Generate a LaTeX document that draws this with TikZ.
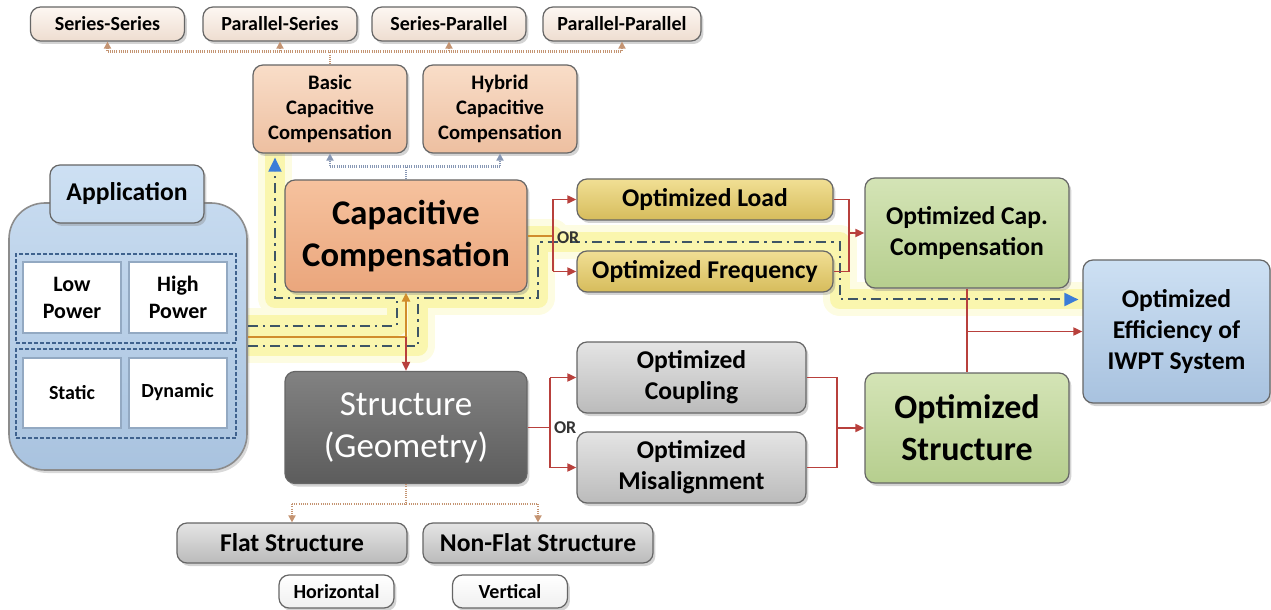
\documentclass[tikz,border=0pt]{standalone}
\usepackage{fontspec}
\setmainfont{Carlito}
\usepackage{tikz}
\usetikzlibrary{arrows.meta, positioning, shadows}

\definecolor{peachtop}{HTML}{FDF7F2}
\definecolor{peachbot}{HTML}{EEDDD0}
\definecolor{saltop}{HTML}{F9DDC8}
\definecolor{salbot}{HTML}{EDBFA0}
\definecolor{captop}{HTML}{F6C29E}
\definecolor{capbot}{HTML}{EAA67C}
\definecolor{geotop}{HTML}{828282}
\definecolor{geobot}{HTML}{5C5C5C}
\definecolor{loadtop}{HTML}{F1DF94}
\definecolor{loadbot}{HTML}{D6BC5C}
\definecolor{greentop}{HTML}{D4E4B6}
\definecolor{greenbot}{HTML}{B6CE8E}
\definecolor{bluetop}{HTML}{CDE0F3}
\definecolor{bluebot}{HTML}{A8C2DF}
\definecolor{graytop}{HTML}{E4E4E4}
\definecolor{graybot}{HTML}{BBBBBB}
\definecolor{apptop}{HTML}{C6DAEF}
\definecolor{appbot}{HTML}{A9C3DF}
\definecolor{linkred}{HTML}{B8403C}
\definecolor{hlorange}{HTML}{D18D2C}
\definecolor{routegray}{HTML}{3E5566}
\definecolor{routeblue}{HTML}{3B7DD8}
\definecolor{glowa}{HTML}{FDFCE2}
\definecolor{glowb}{HTML}{FAF6AE}
\definecolor{treetan}{HTML}{C49472}
\definecolor{treeblue}{HTML}{8797B4}
\definecolor{grpblue}{HTML}{3F628E}
\definecolor{celledge}{HTML}{93A9C2}

\pgfdeclarelayer{bg}
\pgfsetlayers{bg,main}

\begin{document}
\begin{tikzpicture}[x=0.5pt, y=-0.5pt,
    box/.style={draw=black!60, line width=0.6pt, rounded corners=5pt, align=center, inner sep=1pt,
        drop shadow={opacity=0.35, shadow xshift=1.2pt, shadow yshift=-1.5pt}},
    tag/.style={box, top color=peachtop, bottom color=peachbot, minimum width=77pt, minimum height=17pt,
        font=\bfseries\fontsize{10}{12}\selectfont},
    capsub/.style={box, top color=saltop, bottom color=salbot, minimum width=77pt, minimum height=44pt,
        font=\bfseries\fontsize{10.3}{12.5}\selectfont},
    bigbox/.style={box, minimum width=121pt, minimum height=56pt, font=\bfseries\fontsize{17.3}{21}\selectfont},
    midbox/.style={box, font=\bfseries\fontsize{12.8}{15.5}\selectfont},
    yellowbox/.style={midbox, top color=loadtop, bottom color=loadbot, minimum width=128pt, minimum height=20.5pt},
    greybox/.style={midbox, top color=graytop, bottom color=graybot},
    greenbox/.style={top color=greentop, bottom color=greenbot, minimum width=102pt, minimum height=55pt},
    appbox/.style={draw=black!45, line width=0.8pt, rounded corners=18pt, top color=apptop, bottom color=appbot,
        minimum width=119pt, minimum height=133.5pt, drop shadow={opacity=0.3, shadow xshift=1.2pt, shadow yshift=-1.5pt}},
    group/.style={draw=grpblue, line width=0.7pt, dash pattern=on 2pt off 1pt, minimum width=110pt, minimum height=44.5pt},
    cell/.style={draw=celledge, line width=1pt, fill=white, align=center, minimum width=49pt, minimum height=35pt,
        font=\bfseries\fontsize{11}{13.5}\selectfont},
    link/.style={draw=linkred, line width=0.9pt},
    hl/.style={draw=hlorange, line width=1pt},
    tip/.style={-{Triangle[length=4.5pt, width=4pt]}},
    tree/.style={draw=#1, line width=1.3pt, dash pattern=on 0.5pt off 0.6pt},
    treetip/.style={-{Triangle[length=3.5pt, width=3.5pt, color=#1]}},
    route/.style={draw=routegray, line width=1pt, dash pattern=on 5pt off 2.5pt on 1.2pt off 2.5pt,
        -{Triangle[length=7pt, width=6.5pt, color=routeblue]}},
    halo/.style={draw=glowa, line width=17pt, line join=round, line cap=round},
    glow/.style={draw=glowb, line width=10pt, line join=round, line cap=round},
    ortext/.style={font=\bfseries\fontsize{9}{10}\selectfont, inner sep=1pt, text=black!80}
]
\useasboundingbox (0,0) rectangle (1271,610);

% Compensation topologies
\node[tag] (ss) at (107.5,24) {Series-Series};
\node[tag] (ps) at (280,24) {Parallel-Series};
\node[tag] (sp) at (449,24) {Series-Parallel};
\node[tag, minimum width=79pt] (pp) at (622,24) {Parallel-Parallel};

\node[capsub] (basic) at (330,109) {Basic\\Capacitive\\Compensation};
\node[capsub] (hybrid) at (500,109) {Hybrid\\Capacitive\\Compensation};

% Main blocks
\node[bigbox, top color=captop, bottom color=capbot] (capcomp) at (406,236) {Capacitive\\Compensation};
\node[bigbox, top color=geotop, bottom color=geobot, text=white,
    font=\fontsize{17.5}{21}\selectfont] (struct) at (406,427.5) {Structure\\(Geometry)};

% Application panel
\node[appbox] (app) at (128,336.5) {};
\node[group] (pwr) at (126,298.5) {};
\node[group] (mode) at (126,393.5) {};
\node[cell] (low) at (72,297.5) {Low\\Power};
\node[cell] (high) at (178,297.5) {High\\Power};
\node[cell, font=\bfseries\fontsize{10}{12}\selectfont] (static) at (72,392.5) {Static};
\node[cell, font=\bfseries\fontsize{10}{12}\selectfont] (dyn) at (177.5,392.5) {Dynamic};
\node[midbox, top color=bluetop, bottom color=apptop, minimum width=77pt, minimum height=29pt] (apptitle) at (127,194) {Application};

% Optimization targets
\node[yellowbox] (load) at (705,199.5) {Optimized Load};
\node[yellowbox] (freq) at (705,271.5) {Optimized Frequency};
\node[greybox, minimum width=114.5pt, minimum height=35.5pt] (coup) at (691.5,377.5) {Optimized\\Coupling};
\node[greybox, minimum width=114.5pt, minimum height=35.5pt] (mis) at (691.5,467.5) {Optimized\\Misalignment};
\node[midbox, greenbox] (optcap) at (967,233) {Optimized Cap.\\Compensation};
\node[bigbox, greenbox, font=\bfseries\fontsize{17}{21}\selectfont] (optstruct) at (967,428) {Optimized\\Structure};
\node[midbox, top color=bluetop, bottom color=bluebot, minimum width=93.5pt, minimum height=71.5pt] (eff) at (1176.5,331.5) {Optimized\\Efficiency of\\IWPT System};

% Structure types
\node[greybox, minimum width=115pt, minimum height=20pt] (flat) at (292,543) {Flat Structure};
\node[greybox, minimum width=115pt, minimum height=20pt] (nonflat) at (538,543) {Non-Flat Structure};
\node[tag, top color=white, bottom color=white!94!black, minimum width=57.5pt, minimum height=16.5pt] (horiz) at (336.5,591.5) {Horizontal};
\node[tag, top color=white, bottom color=white!94!black, minimum width=57.5pt, minimum height=16.5pt] (vert) at (510,591.5) {Vertical};

% Highlighted design path
\begin{pgfonlayer}{bg}
    \foreach \g in {halo,glow} {
        \draw[\g] ([yshift=5.5pt]app.east) -- (397,325.5) -- (397,298) -- (275,298) -- ([xshift=-27.5pt]basic.south);
        \draw[\g] ([yshift=-4.5pt]app.east) -- (418,345.5) -- (418,298) -- (538,298) -- (538,242)
            -- (840,242) -- (840,299.5) -- ([yshift=16pt]eff.west);
        \draw[\g] (capcomp.east) -- ++(25,0);
    }
\end{pgfonlayer}
\draw[route] ([yshift=5.5pt]app.east) -- (397,325.5) -- (397,298) -- (275,298) -- ([xshift=-27.5pt, yshift=-2pt]basic.south);
\draw[route] ([yshift=-4.5pt]app.east) -- (418,345.5) -- (418,298) -- (538,298) -- (538,242)
    -- (840,242) -- (840,299.5) -- ([xshift=-2pt, yshift=16pt]eff.west);

% Application feeds both branches
\draw[hl] (app.east) -- (app.east -| capcomp.south) coordinate (hub);
\draw[hl, tip] (hub) -- (capcomp.south);
\draw[link, tip] (hub) -- (struct.north);

% Compensation branch
\draw[hl] (capcomp.east) -- ++(25,0) coordinate (orA);
\node[ortext, anchor=west] (orcap) at ([xshift=1pt, yshift=-1pt]orA) {OR};
\draw[link] (orA |- load.west) -- (orA |- freq.west);
\draw[link, tip] (orA |- load.west) -- (load.west);
\draw[link, tip] (orA |- freq.west) -- (freq.west);
\draw[link] (load.east) -- ++(15,0) coordinate (mA) -- (mA |- freq.east) -- (freq.east);
\draw[link, tip] (mA |- optcap.west) -- (optcap.west);

% Structure branch
\draw[link] (struct.east) -- ++(22,0) coordinate (orB);
\node[ortext, anchor=west] (orstr) at ([xshift=1pt]orB) {OR};
\draw[link] (orB |- coup.west) -- (orB |- mis.west);
\draw[link, tip] (orB |- coup.west) -- (coup.west);
\draw[link, tip] (orB |- mis.west) -- (mis.west);
\draw[link] (coup.east) -- ++(30,0) coordinate (mB) -- (mB |- mis.east) -- (mis.east);
\draw[link, tip] (mB |- optstruct.west) -- (optstruct.west);

% Both results give the efficiency
\draw[link] (optcap.south) -- (optstruct.north);
\draw[link, tip] (optcap.south |- eff.west) -- (eff.west);

% Sub-classification trees
\draw[tree=treetan] (basic.north) -- ++(0,-13) coordinate (topbus);
\draw[tree=treetan] (topbus -| ss.south) -- (topbus -| pp.south);
\foreach \n in {ss,ps,sp,pp}
    \draw[tree=treetan, treetip=treetan] (topbus -| \n.south) -- (\n.south);

\draw[tree=treeblue] (capcomp.north) -- ++(0,-13) coordinate (midbus);
\draw[tree=treeblue] (midbus -| basic.south) -- (midbus -| hybrid.south);
\foreach \n in {basic,hybrid}
    \draw[tree=treeblue, treetip=treeblue] (midbus -| \n.south) -- (\n.south);

\draw[tree=treetan] (struct.south) -- ++(0,20) coordinate (lowbus);
\draw[tree=treetan] (lowbus -| flat.north) -- (lowbus -| nonflat.north);
\foreach \n in {flat,nonflat}
    \draw[tree=treetan, treetip=treetan] (lowbus -| \n.north) -- (\n.north);
\end{tikzpicture}
\end{document}
